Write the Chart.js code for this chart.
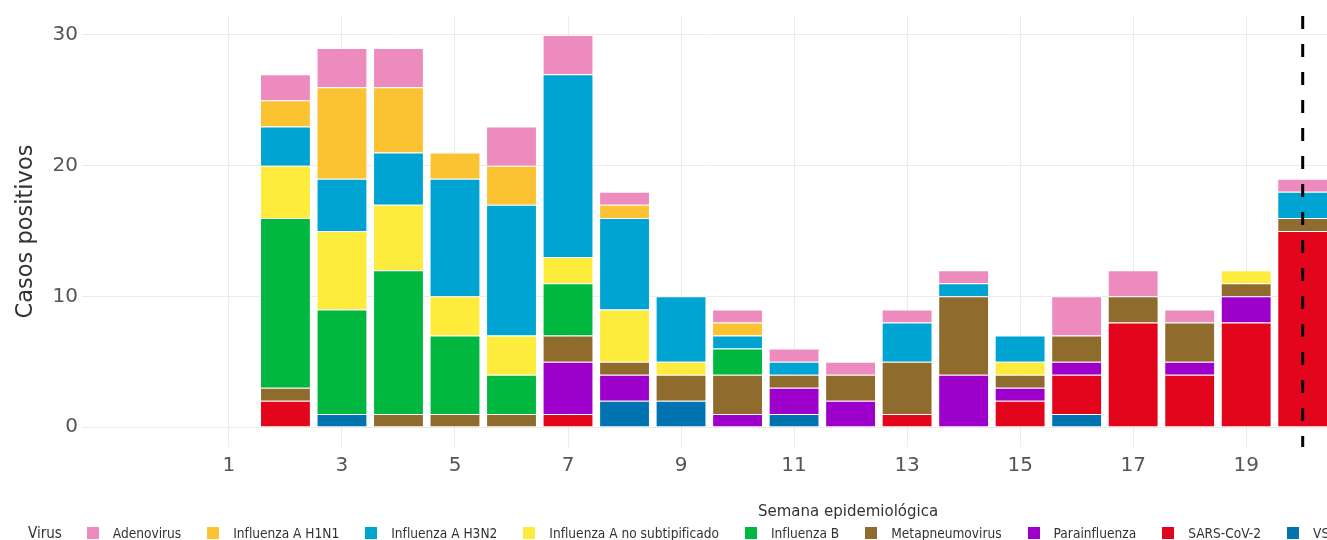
<!DOCTYPE html>
<html lang="es">
<head>
<meta charset="utf-8">
<title>Casos positivos por semana epidemiológica</title>
<script src="https://cdn.jsdelivr.net/npm/chart.js@4.4.1/dist/chart.umd.min.js"></script>
<style>
    html, body { margin: 0; padding: 0; background: #fff; }
    #wrap { position: relative; width: 1327px; height: 540px; overflow: hidden; }
    #xTitle {
        position: absolute; left: 758px; top: 502px;
        font: 15px "DejaVu Sans", sans-serif; color: #333; white-space: nowrap;
    }
    #legend {
        position: absolute; left: 28px; top: 524px;
        display: flex; align-items: center; white-space: nowrap;
        font: 13.6px "DejaVu Sans Condensed", "DejaVu Sans", sans-serif; color: #333;
    }
    #legend .ttl { font-size: 15px; margin-right: 25px; }
    #legend .box { width: 12px; height: 12px; margin-right: 14px; flex: none; }
    #legend .lbl { margin-right: 26px; }
</style>
</head>
<body>
<div id="wrap">
    <canvas id="chart"></canvas>
    <div id="xTitle">Semana epidemiológica</div>
    <div id="legend"></div>
</div>
<script>
// --- DATOS ---
const weeks = [2, 3, 4, 5, 6, 7, 8, 9, 10, 11, 12, 13, 14, 15, 16, 17, 18, 19, 20];
const weekTicks = [1, 3, 5, 7, 9, 11, 13, 15, 17, 19];
const yTicks = [0, 10, 20, 30];
const cutoffWeek = 20;

// orden de apilado: de abajo hacia arriba
const virusNames = ['VSR', 'SARS-CoV-2', 'Parainfluenza', 'Metapneumovirus', 'Influenza B',
    'Influenza A no subtipificado', 'Influenza A H3N2', 'Influenza A H1N1', 'Adenovirus'];
const virusColors = ['#0074B0', '#E3051B', '#9E00CC', '#8F6C2E', '#00B840',
    '#FDEC3C', '#00A4D3', '#FBC232', '#EE8BBE'];

const vsr          = [0, 1, 0, 0, 0, 0, 2, 2, 0, 1, 0, 0, 0, 0, 1, 0, 0, 0, 0];
const sarsCov2     = [2, 0, 0, 0, 0, 1, 0, 0, 0, 0, 0, 1, 0, 2, 3, 8, 4, 8, 15];
const parainfluenza= [0, 0, 0, 0, 0, 4, 2, 0, 1, 2, 2, 0, 4, 1, 1, 0, 1, 2, 0];
const metapneumo   = [1, 0, 1, 1, 1, 2, 1, 2, 3, 1, 2, 4, 6, 1, 2, 2, 3, 1, 1];
const influenzaB   = [13, 8, 11, 6, 3, 4, 0, 0, 2, 0, 0, 0, 0, 0, 0, 0, 0, 0, 0];
const influenzaANs = [4, 6, 5, 3, 3, 2, 4, 1, 0, 0, 0, 0, 0, 1, 0, 0, 0, 1, 0];
const h3n2         = [3, 4, 4, 9, 10, 14, 7, 5, 1, 1, 0, 3, 1, 2, 0, 0, 0, 0, 2];
const h1n1         = [2, 7, 5, 2, 3, 0, 1, 0, 1, 0, 0, 0, 0, 0, 0, 0, 0, 0, 0];
const adenovirus   = [2, 3, 3, 0, 3, 3, 1, 0, 1, 1, 1, 1, 1, 0, 3, 2, 1, 0, 1];

const virusSeries = [vsr, sarsCov2, parainfluenza, metapneumo, influenzaB,
    influenzaANs, h3n2, h1n1, adenovirus];

const FONT = '"DejaVu Sans", sans-serif';
const GRID = '#ebebeb';

// --- LEYENDA (orden inverso al apilado) ---
function buildLegend() {
    const legend = document.getElementById('legend');
    legend.innerHTML = '<span class="ttl">Virus</span>';
    for (let i = virusNames.length - 1; i >= 0; i--) {
        legend.innerHTML += `<span class="box" style="background:${virusColors[i]}"></span>` +
            `<span class="lbl">${virusNames[i]}</span>`;
    }
}

// --- LINEA DE CORTE ---
const cutoffLine = {
    id: 'cutoffLine',
    afterDatasetsDraw(chart) {
        const { ctx, chartArea, scales } = chart;
        const x = scales.x.getPixelForValue(cutoffWeek);
        ctx.save();
        ctx.beginPath();
        ctx.setLineDash([13, 15]);
        ctx.lineWidth = 3;
        ctx.strokeStyle = '#000';
        ctx.moveTo(x, chartArea.top);
        ctx.lineTo(x, chartArea.bottom);
        ctx.stroke();
        ctx.restore();
    }
};

// --- GRAFICO ---
function drawChart() {
    const datasets = virusNames.map((name, i) => ({
        label: name,
        data: virusSeries[i].map(v => v === 0 ? null : v),
        backgroundColor: virusColors[i],
        borderColor: 'rgba(255,255,255,0.55)',
        borderWidth: 1,
        barPercentage: 0.9,
        categoryPercentage: 1
    }));

    new Chart(document.getElementById('chart'), {
        type: 'bar',
        data: { labels: weeks, datasets: datasets },
        plugins: [cutoffLine],
        options: {
            responsive: true,
            maintainAspectRatio: false,
            animation: false,
            layout: { padding: { top: 15, right: 0, left: 0, bottom: 0 } },
            plugins: {
                legend: { display: false },
                tooltip: { enabled: true }
            },
            scales: {
                x: {
                    type: 'linear',
                    stacked: true,
                    offset: false,
                    min: -1.6,
                    max: 20.43,
                    afterBuildTicks: s => { s.ticks = weekTicks.map(v => ({ value: v })); },
                    afterFit: s => { s.height = 93; },
                    grid: { color: GRID, lineWidth: 1, drawTicks: false, offset: false },
                    border: { display: false },
                    ticks: { font: { family: FONT, size: 20 }, color: '#555', padding: 7, maxRotation: 0, autoSkip: false }
                },
                y: {
                    stacked: true,
                    min: -1.53,
                    max: 31.45,
                    afterBuildTicks: s => { s.ticks = yTicks.map(v => ({ value: v })); },
                    afterFit: s => { s.width = 82; },
                    grid: { color: GRID, lineWidth: 1, drawTicks: false },
                    border: { display: false },
                    ticks: { font: { family: FONT, size: 20 }, color: '#555', padding: 4 },
                    title: {
                        display: true,
                        text: 'Casos positivos',
                        font: { family: FONT, size: 22.5 },
                        color: '#333',
                        padding: { top: 13, bottom: 0 }
                    }
                }
            }
        }
    });
}

buildLegend();
drawChart();
</script>
</body>
</html>
